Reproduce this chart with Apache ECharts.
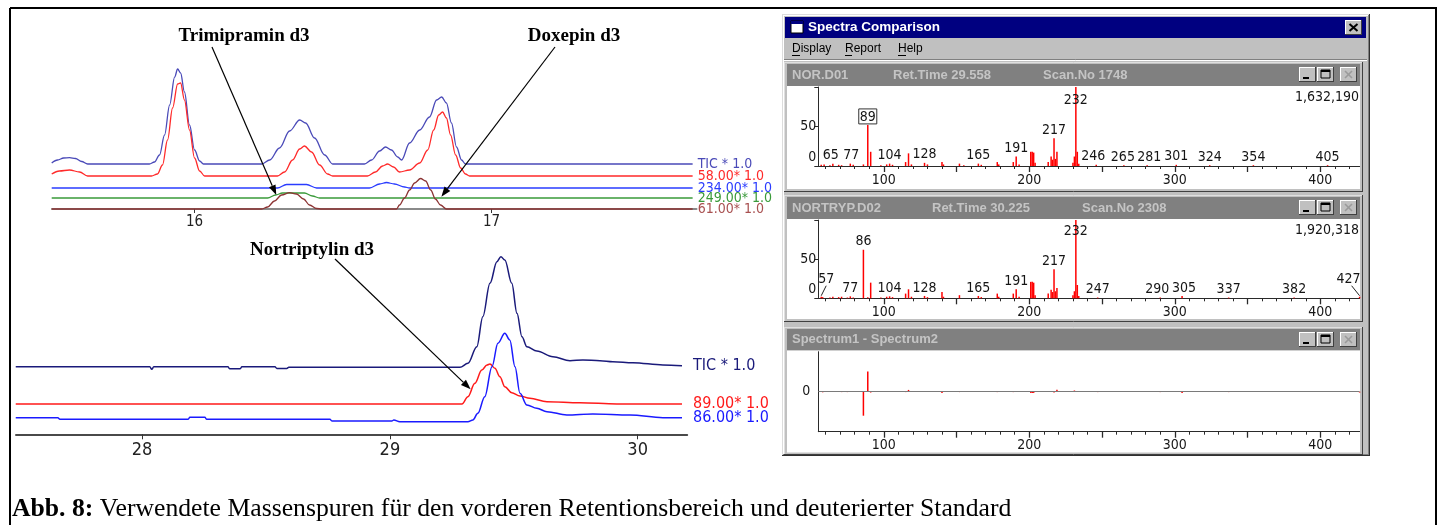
<!DOCTYPE html>
<html>
<head>
<meta charset="utf-8">
<title>Abb. 8</title>
<script src="https://cdn.jsdelivr.net/npm/echarts@6/dist/echarts.min.js"></script>
<style>
html, body { margin: 0; padding: 0; background: #fff; }
#chart { width: 1447px; height: 525px; }
</style>
</head>
<body>
<div id="chart"></div>
<script>
// ---- Chromatogram, front retention window: [time in min, intensity above trace baseline]
const ticFront = [[15.519,1],[15.539,4],[15.559,6],[15.579,6.3],[15.599,5.5],[15.620,2.5],[15.640,0],
  [15.848,0],[15.865,2],[15.882,9],[15.899,29],[15.916,59],[15.933,87],[15.943,95],[15.953,91],[15.966,72],[15.983,39],[16.000,14],[16.017,3],[16.030,0],
  [16.226,0],[16.253,4],[16.286,16],[16.320,33],[16.354,44],[16.374,41],[16.404,26],[16.438,9],[16.465,0],
  [16.572,0],[16.596,4],[16.623,13],[16.643,17],[16.663,14],[16.684,7],[16.697,4],[16.724,21],[16.758,34],[16.791,47],[16.815,64],[16.832,67],[16.848,61],[16.865,41],[16.882,17],[16.899,4],[16.912,0],[17.677,0]];
const ion58 = [[15.519,2],[15.545,5],[15.579,6],[15.613,4],[15.640,0],
  [15.855,0],[15.875,2],[15.892,11],[15.909,36],[15.926,68],[15.943,92],[15.953,93],[15.966,76],[15.983,46],[16.000,18],[16.017,5],[16.034,0],
  [16.279,0],[16.303,4],[16.330,16],[16.354,27],[16.370,30],[16.394,24],[16.421,11],[16.448,2],[16.465,0],
  [16.582,0],[16.609,4],[16.633,10],[16.650,12],[16.670,9],[16.690,4],[16.724,6],[16.758,13],[16.785,26],[16.805,46],[16.822,61],[16.835,64],[16.848,58],[16.862,41],[16.879,21],[16.896,8],[16.912,2],[16.926,0],[17.677,0]];
const ion234 = [[15.519,0],[16.279,0],[16.310,3.5],[16.377,3.5],[16.411,0],[16.589,0],[16.623,4],[16.646,5.5],[16.673,4],[16.707,1],[16.724,0],[17.677,0]];
const ion249 = [[15.519,0],[16.246,0],[16.273,3],[16.296,5],[16.370,5],[16.397,2],[16.421,0],[17.677,0]];
const ion61 = [[15.519,0],[16.226,0],[16.246,2],[16.269,8],[16.293,14],[16.320,16.3],[16.343,15],[16.367,10],[16.387,4],[16.411,0.5],[16.428,0],
  [16.680,0],[16.690,4],[16.707,11],[16.724,19],[16.741,26],[16.761,30.5],[16.778,28],[16.795,19],[16.811,10],[16.828,4],[16.848,0],[17.677,0]];
const frontTicks = [16, 17];

// ---- Chromatogram, Nortriptylin window
const ticRear = [[27.490,0.5],[28.031,0.5],[28.039,-2],[28.047,0.5],[28.346,0.5],[28.354,-1.5],[28.395,-1.5],[28.403,0.5],[28.536,0.5],[28.544,-1.2],[28.584,-1.2],[28.592,0],
  [29.283,0],[29.315,4],[29.351,20.6],[29.375,50.6],[29.404,84],[29.432,105.6],[29.448,110.6],[29.464,107.3],[29.492,84],[29.513,54],[29.533,30.6],[29.553,20.6],
  [29.593,16.3],[29.658,10.6],[29.727,6.6],[29.779,7.3],[29.848,6.6],[29.900,5.6],[29.981,4.6],[30.102,2.3],[30.179,1.6]];
const ion89 = [[27.490,0],[29.291,0],[29.315,7.3],[29.343,20.7],[29.371,34],[29.392,39],[29.404,40],[29.424,35.7],[29.444,27.3],[29.464,17.3],[29.492,11.3],
  [29.525,8],[29.565,5.7],[29.634,2.3],[29.767,1.3],[29.916,0],[30.179,0]];
const ion86 = [[27.490,0.3],[27.660,0.3],[27.668,-1.3],[28.185,-1.3],[28.193,0.7],[28.253,0.7],[28.261,-1.3],[28.758,-1.3],[28.766,-3],[29.008,-3],[29.016,-2],[29.040,-3.7],
  [29.315,-3.7],[29.335,-2],[29.355,4.7],[29.383,21.3],[29.412,51.3],[29.436,74.7],[29.464,84.7],[29.484,78],[29.505,51.3],[29.525,24.7],[29.553,13],[29.593,9.7],
  [29.634,6.3],[29.714,3],[29.819,4],[29.969,3],[30.102,0.3],[30.179,0.3]];
const rearTicks = [28, 29, 30];

// ---- Mass spectra: [m/z, relative abundance %]
const spectrumNor = [[57,1.5],[59,2],[63,1],[65,3],[69,1.5],[71,1],[77,3],[79,1.5],[86,2],[89,52],[91,18],[98,1],[102,2],[104,3],[106,1.5],
  [115,5],[117,16],[119,2],[128,4],[130,2],[140,5],[141,2],[152,3],[155,1],[165,3],[167,1.5],[178,5],[179,2],[189,5],[191,12],[193,2],
  [201,18],[202,18],[203,17],[204,4],[213,5],[215,12],[216,8],[217,35],[218,9],[219,18],[230,4],[231,12],[232,100],[233,18],[234,3],
  [246,1.5],[265,1],[281,1],[301,1.5],[324,1],[354,1],[405,1]];
const labelsNor = [65,77,89,104,128,165,191,217,232,246,265,281,301,324,354,405];
const spectrumNortryp = [[57,2],[58,1.5],[63,1],[65,2],[69,1.5],[71,2],[75,1],[77,2.5],[79,1],[86,62],[89,1.5],[91,20],[98,1],[102,2],[104,2.5],[106,1.5],
  [115,6],[117,11.5],[119,2],[128,3],[130,1.5],[140,8],[141,2],[152,4],[165,3],[167,1.5],[178,6],[179,2],[189,6],[191,11.5],[193,2],
  [201,21],[202,21],[203,20],[204,4],[213,6],[215,11],[216,8],[217,37],[218,9],[219,13],[230,4],[231,9],[232,100],[233,17],[234,3],
  [247,1],[290,1],[305,3],[337,1],[382,1],[427,2]];
const labelsNortryp = [57,77,86,104,128,165,191,217,232,247,290,305,337,382,427];
const mzLabelTicks = [100, 200, 300, 400];
const mzMajorTicks = [100, 150, 200, 250, 300, 350, 400];
const mzMinorTicks = [60,70,80,90,110,120,130,140,160,170,180,190,210,220,230,240,260,270,280,290,310,320,330,340,360,370,380,390,410,420];

// ---- Fonts
const NARROW = '"Liberation Sans Narrow", "DejaVu Sans Condensed", "Arial Narrow", sans-serif';
const SANS = '"Liberation Sans", Arial, sans-serif';
const SERIF = '"Liberation Serif", "Times New Roman", serif';

// difference spectrum, Spectrum1 - Spectrum2
const diffMap = new Map();
spectrumNor.forEach(([mz, a]) => diffMap.set(mz, a));
spectrumNortryp.forEach(([mz, a]) => diffMap.set(mz, (diffMap.get(mz) || 0) - a));
const spectrumDiff = [...diffMap.entries()].sort((a, b) => a[0] - b[0]);

// ---- helpers
function trace(d, xi, yi) {
  return {
    type: 'line', xAxisIndex: xi, yAxisIndex: yi, animation: false, clip: false,
    symbol: 'none', showSymbol: false, smooth: 0.35, smoothMonotone: 'x',
    lineStyle: { color: d.color, width: d.width },
    data: d.data.map(p => [p[0], p[1] + d.offset]),
    endLabel: { show: true, formatter: d.label, color: d.labelColor || d.color, fontSize: d.fontSize,
      fontFamily: NARROW, distance: d.gap }
  };
}
function spectrum(data, labeled, special, xi, yi) {
  return {
    type: 'bar', xAxisIndex: xi, yAxisIndex: yi, barWidth: 1.5, animation: false,
    itemStyle: { color: '#ff0000' },
    label: { show: false, position: 'top', distance: 1, fontSize: 14, fontFamily: NARROW, color: '#151515',
      formatter: p => String(p.value[0]) },
    data: data.map(([mz, ab]) => {
      const item = { value: [mz, ab] };
      if (labeled.includes(mz)) item.label = Object.assign({ show: true }, special[mz] || {});
      return item;
    })
  };
}
function mzAxes(gridIndex) {
  const common = { type: 'value', gridIndex, position: 'bottom', min: 55, max: 427, splitLine: { show: false } };
  return [
    Object.assign({}, common, {
      axisLine: { show: true, onZero: false, lineStyle: { color: '#2a2a2a', width: 1 } },
      axisTick: { show: true, customValues: mzMinorTicks, length: 3, lineStyle: { color: '#2a2a2a', width: 1 } },
      axisLabel: { show: false }
    }),
    Object.assign({}, common, {
      axisLine: { show: false, onZero: false },
      axisTick: { show: true, customValues: mzMajorTicks, length: 6, lineStyle: { color: '#2a2a2a', width: 1.3 } },
      axisLabel: { show: true, customValues: mzLabelTicks, margin: 7, fontSize: 14, fontFamily: NARROW, color: '#151515' }
    })
  ];
}
function abundanceAxis(gridIndex) {
  return {
    type: 'value', gridIndex, min: 0, max: 100, interval: 50, splitLine: { show: false },
    axisLine: { show: true, lineStyle: { color: '#2a2a2a', width: 1 } },
    axisTick: { show: true, length: 4, lineStyle: { color: '#2a2a2a' } },
    axisLabel: { margin: 2, fontSize: 14, fontFamily: NARROW, color: '#151515',
      formatter: v => v === 0 ? '{lift|0}' : (v === 50 ? '50' : ''),
      rich: { lift: { padding: [0, 0, 18, 0], fontSize: 14, fontFamily: NARROW, color: '#151515' } } }
  };
}

const frontTraces = [
  { data: ticFront, offset: 45, color: '#4a4ab8', label: 'TIC * 1.0' },
  { data: ion58, offset: 33, color: '#ff2a2a', label: '58.00* 1.0' },
  { data: ion234, offset: 21, color: '#2a3cff', label: '234.00* 1.0' },
  { data: ion249, offset: 11, color: '#3a9a3a', label: '249.00* 1.0' },
  { data: ion61, offset: 0, color: '#8c3434', labelColor: '#a85050', label: '61.00* 1.0' }
].map(d => Object.assign(d, { width: 1.3, fontSize: 14, gap: 5 }));
const rearTraces = [
  { data: ticRear, offset: 67, color: '#1a1a7a', label: 'TIC * 1.0' },
  { data: ion89, offset: 30.3, color: '#ff1a1a', label: '89.00* 1.0' },
  { data: ion86, offset: 16.3, color: '#1a1aff', label: '86.00* 1.0' }
].map(d => Object.assign(d, { width: 1.5, fontSize: 16, gap: 11 }));

const chart = echarts.init(document.getElementById('chart'), null, { renderer: 'canvas' });

const option = {
  backgroundColor: '#ffffff',
  animation: false,
  grid: [
    { left: 52, top: 59, width: 644.5, height: 150, containLabel: false, outerBoundsMode: 'none' },
    { left: 16, top: 249.3, width: 671.2, height: 185, containLabel: false, outerBoundsMode: 'none' },
    { left: 818.3, top: 87, width: 541.3, height: 79, containLabel: false, outerBoundsMode: 'none' },
    { left: 818.3, top: 220, width: 541.3, height: 78.3, containLabel: false, outerBoundsMode: 'none' },
    { left: 818.3, top: 351.7, width: 541.3, height: 80, containLabel: false, outerBoundsMode: 'none' }
  ],
  xAxis: [
    { type: 'value', gridIndex: 0, position: 'bottom', min: 15.52, max: 17.69, splitLine: { show: false },
      axisLine: { show: true, onZero: false, lineStyle: { color: '#8a8a8a', width: 2 } },
      axisTick: { show: true, customValues: frontTicks, length: 4, lineStyle: { color: '#333' } },
      axisLabel: { customValues: frontTicks, margin: 6, fontSize: 15, fontFamily: NARROW, color: '#222' } },
    { type: 'value', gridIndex: 1, position: 'bottom', min: 27.491, max: 30.2, splitLine: { show: false },
      axisLine: { show: true, onZero: false, lineStyle: { color: '#4a4a4a', width: 2 } },
      axisTick: { show: true, customValues: rearTicks, length: 5, lineStyle: { color: '#333' } },
      axisLabel: { customValues: rearTicks, margin: 7, fontSize: 18, fontFamily: NARROW, color: '#222' } },
    ...mzAxes(2), ...mzAxes(3), ...mzAxes(4)
  ],
  yAxis: [
    { type: 'value', gridIndex: 0, min: 0, max: 150, show: false },
    { type: 'value', gridIndex: 1, min: 0, max: 185, show: false },
    abundanceAxis(2),
    abundanceAxis(3),
    { type: 'value', gridIndex: 4, min: -100, max: 100, interval: 100, splitLine: { show: false },
      axisLine: { show: true, lineStyle: { color: '#2a2a2a', width: 1 } },
      axisTick: { show: false },
      axisLabel: { margin: 8, fontSize: 14, fontFamily: NARROW, color: '#151515', formatter: v => v === 0 ? '0' : '' } }
  ],
  series: [
    ...frontTraces.map(d => trace(d, 0, 0)),
    ...rearTraces.map(d => trace(d, 1, 1)),
    spectrum(spectrumNor, labelsNor, {
      65: { offset: [-2, 0] },
      77: { offset: [1, 0] },
      89: { borderColor: '#333', borderWidth: 1, padding: [1, 1, 0, 1] },
      232: { position: 'insideTop', distance: 6 },
      246: { offset: [-3, 0] },
      265: { offset: [-1, 0] },
      281: { offset: [2, 0] }
    }, 2, 2),
    spectrum(spectrumNortryp, labelsNortryp, {
      57: { offset: [5, -9] },
      232: { position: 'insideTop', distance: 4 },
      290: { offset: [-3, 0] },
      305: { offset: [2, 0] },
      427: { offset: [-11, -9] }
    }, 4, 3),
    Object.assign(spectrum(spectrumDiff, [], {}, 6, 4), {
      markLine: { silent: true, symbol: 'none', label: { show: false }, animation: false,
        lineStyle: { color: '#7a7a7a', width: 1.2, type: 'solid' }, data: [{ yAxis: 0 }] }
    })
  ]
};
chart.setOption(option);

// ---- window chrome and annotations
function box(x, y, w, h, fill, z, stroke) {
  return { type: 'rect', silent: true, z, shape: { x, y, width: w, height: h }, style: { fill, stroke: stroke || null, lineWidth: 1 } };
}
function seg(x1, y1, x2, y2, stroke, lw, z) {
  return { type: 'line', silent: true, z, shape: { x1, y1, x2, y2 }, style: { stroke, lineWidth: lw || 1 } };
}
function bevel(x, y, w, h, light, dark, z) {
  return [
    seg(x, y + 0.5, x + w, y + 0.5, light, 1, z), seg(x + 0.5, y, x + 0.5, y + h, light, 1, z),
    seg(x, y + h - 0.5, x + w, y + h - 0.5, dark, 1, z), seg(x + w - 0.5, y, x + w - 0.5, y + h, dark, 1, z)
  ];
}
function txt(x, y, text, font, fill, align, z, extra) {
  return Object.assign({ type: 'text', silent: true, z: z == null ? 60 : z, x, y,
    style: { text, font, fill, align: align || 'left', textAlign: align || 'left', verticalAlign: 'middle', textVerticalAlign: 'middle' } }, extra || {});
}
function arrow(x1, y1, x2, y2, z) {
  const ang = Math.atan2(y2 - y1, x2 - x1), L = 10, W = 3.6;
  const bx = x2 - L * Math.cos(ang), by = y2 - L * Math.sin(ang);
  const px = -Math.sin(ang) * W, py = Math.cos(ang) * W;
  return [
    seg(x1, y1, bx, by, '#000', 1.2, z),
    { type: 'polygon', silent: true, z, shape: { points: [[x2, y2], [bx + px, by + py], [bx - px, by - py]] }, style: { fill: '#000' } }
  ];
}
function winButtons(y, z) {
  const out = [];
  [[1299, 'min'], [1317, 'max'], [1340, 'close']].forEach(([x, kind]) => {
    out.push(box(x, y, 17, 15, '#c0c0c0', z));
    out.push(...bevel(x, y, 17, 15, '#ffffff', '#404040', z + 1));
    if (kind === 'min') out.push(seg(x + 4, y + 11, x + 10, y + 11, '#000', 2, z + 2));
    if (kind === 'max') {
      out.push(box(x + 4, y + 3, 9, 8, null, z + 2, '#000'));
      out.push(seg(x + 4, y + 4, x + 13, y + 4, '#000', 2, z + 2));
    }
    if (kind === 'close') {
      out.push(seg(x + 5, y + 4, x + 12, y + 11, '#9a9a9a', 1.6, z + 2));
      out.push(seg(x + 12, y + 4, x + 5, y + 11, '#9a9a9a', 1.6, z + 2));
    }
  });
  return out;
}

const els = [];
const BG = -30;
// figure frame
els.push(seg(10, 8, 1437, 8, '#000', 2, 80), seg(10, 8, 10, 525, '#000', 2, 80), seg(1436, 8, 1436, 525, '#000', 2, 80));
// application window
els.push(box(782, 14, 588, 442, '#c0c0c0', BG));
els.push(...bevel(782, 14, 588, 442, '#dcdcdc', '#303030', BG + 1));
els.push(...bevel(783, 15, 586, 440, '#ffffff', '#808080', BG + 1));
els.push(box(785, 17, 581, 21, '#000080', BG + 2));
els.push(box(791, 21, 12, 12, '#ffffff', BG + 3, '#000'));
els.push(box(791, 21, 12, 3, '#000080', BG + 4));
els.push(txt(808, 27.5, 'Spectra Comparison', 'bold 13.5px ' + SANS, '#ffffff'));
els.push(box(1345, 20, 17, 15, '#c0c0c0', BG + 3));
els.push(...bevel(1345, 20, 17, 15, '#ffffff', '#404040', BG + 4));
els.push(seg(1349.5, 24, 1357.5, 31, '#000', 2, BG + 5), seg(1357.5, 24, 1349.5, 31, '#000', 2, BG + 5));
// menu bar
[['Display', 792], ['Report', 845], ['Help', 898]].forEach(([t, x]) => {
  els.push(txt(x, 48.5, t, '12px ' + SANS, '#000'));
});
els.push(seg(792, 55.5, 800, 55.5, '#000', 1, 60), seg(845, 55.5, 852, 55.5, '#000', 1, 60), seg(898, 55.5, 906, 55.5, '#000', 1, 60));
els.push(seg(784, 59.5, 1367, 59.5, '#808080', 1, BG + 2), seg(784, 60.5, 1367, 60.5, '#ffffff', 1, BG + 2));

// child windows: outer frame, caption bar, white plot area
const panels = [
  { top: 62, h: 130, hTop: 64, hH: 22, pTop: 86, pBot: 189,
    texts: [['NOR.D01', 792], ['Ret.Time 29.558', 893], ['Scan.No 1748', 1043]], base: '1,632,190', baseY: 97 },
  { top: 195, h: 127, hTop: 197, hH: 22, pTop: 219, pBot: 319,
    texts: [['NORTRYP.D02', 792], ['Ret.Time 30.225', 932], ['Scan.No 2308', 1082]], base: '1,920,318', baseY: 230 },
  { top: 327, h: 128, hTop: 329, hH: 21.5, pTop: 350.5, pBot: 452.5,
    texts: [['Spectrum1 - Spectrum2', 792]] }
];
panels.forEach(p => {
  els.push(box(784, p.top, 579, p.h, '#c0c0c0', BG + 2));
  els.push(...bevel(784, p.top, 579, p.h, '#dfdfdf', '#404040', BG + 3));
  els.push(box(787, p.hTop, 573, p.hH, '#808080', BG + 4));
  els.push(box(787, p.pTop, 573, p.pBot - p.pTop, '#ffffff', BG + 4));
  els.push(...winButtons(p.hTop + 3, BG + 5));
  const cy = p.hTop + p.hH / 2;
  p.texts.forEach(([t, x]) => els.push(txt(x, cy, t, 'bold 13px ' + SANS, '#c4c4c4')));
  if (p.base) els.push(txt(1359, p.baseY, p.base, '14px ' + NARROW, '#151515', 'right'));
});

// leader lines for displaced peak labels (NORTRYP)
const leader57 = chart.convertToPixel({ xAxisIndex: 4, yAxisIndex: 3 }, [57, 2]);
els.push(seg(leader57[0], leader57[1] - 1, leader57[0] + 5, leader57[1] - 11, '#222', 1, 60));
const leader427 = chart.convertToPixel({ xAxisIndex: 4, yAxisIndex: 3 }, [427, 2]);
els.push(seg(leader427[0], leader427[1] - 1, leader427[0] - 8, leader427[1] - 11, '#222', 1, 60));

// compound annotations
const annotations = [
  { text: 'Trimipramin d3', cx: 244, cy: 36, from: [212, 47], axes: { xAxisIndex: 0, yAxisIndex: 0 }, at: [16.275, 14] },
  { text: 'Doxepin d3', cx: 574, cy: 36, from: [555, 47], axes: { xAxisIndex: 0, yAxisIndex: 0 }, at: [16.831, 12.3] },
  { text: 'Nortriptylin d3', cx: 312, cy: 250, from: [335, 259], axes: { xAxisIndex: 1, yAxisIndex: 1 }, at: [29.326, 45] }
];
annotations.forEach(a => {
  els.push(txt(a.cx, a.cy, a.text, 'bold 19px ' + SERIF, '#000', 'center', 70));
  const tip = chart.convertToPixel(a.axes, a.at);
  els.push(...arrow(a.from[0], a.from[1], tip[0], tip[1], 70));
});

// caption
els.push({ type: 'text', silent: true, z: 70, x: 12, y: 509,
  style: { text: '{b|Abb. 8:} Verwendete Massenspuren für den vorderen Retentionsbereich und deuterierter Standard',
    font: '25.7px ' + SERIF, fill: '#000', verticalAlign: 'middle', textVerticalAlign: 'middle',
    rich: { b: { font: 'bold 25.7px ' + SERIF, fill: '#000' } } } });

chart.setOption({ graphic: { elements: els } });
</script>
</body>
</html>
